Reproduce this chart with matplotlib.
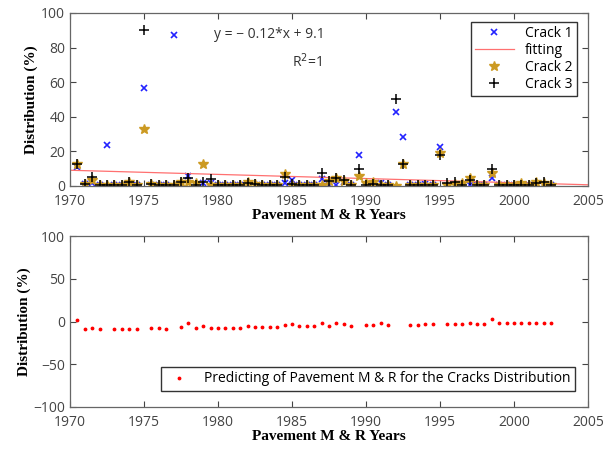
import matplotlib.pyplot as plt
import numpy as np

years = [1970.5, 1971, 1971.5, 1972, 1972.5, 1973, 1973.5, 1974, 1974.5, 1975,
         1975.5, 1976, 1976.5, 1977, 1977.5, 1978, 1978.5, 1979, 1979.5, 1980,
         1980.5, 1981, 1981.5, 1982, 1982.5, 1983, 1983.5, 1984, 1984.5, 1985,
         1985.5, 1986, 1986.5, 1987, 1987.5, 1988, 1988.5, 1989, 1989.5, 1990,
         1990.5, 1991, 1991.5, 1992, 1992.5, 1993, 1993.5, 1994, 1994.5, 1995,
         1995.5, 1996, 1996.5, 1997, 1997.5, 1998, 1998.5, 1999, 1999.5, 2000,
         2000.5, 2001, 2001.5, 2002, 2002.5]

crack1 = [11, 1, 1.5, 0.5, 23.5, 0.5, 0.5, 0.5, 0.5, 56.5,
          0.5, 0.5, 0.5, 87.5, 0.5, 6, 0.5, 2, 2, 0.5,
          0.5, 0.5, 0.5, 0.5, 0.5, 0.5, 0.5, 0.5, 2, 3.5,
          0.5, 0.5, 0.5, 4, 0.5, 0.5, 2.5, 0.5, 18, 0.5,
          0, 1.5, 0.5, 42.7, 28.5, 0.5, 0.5, 1, 0.5, 22.4,
          0, 0.5, 0, 0.5, 0.5, 0.5, 4.5, 0.5, 0.5, 0.5,
          0.5, 0.5, 0, 0.5, 0.5]
crack2 = [13, 1, 3.5, 0.5, 0.5, 0.5, 0.5, 2.5, 0.5, 33,
          1, 0.5, 0.5, 0.5, 2.5, 2.5, 2, 12.7, 0.5, 0.5,
          0.5, 0.5, 0.5, 2.5, 1, 0.5, 0.5, 0.5, 7, 0.5,
          0.5, 0.5, 0.5, 0.5, 3, 4.5, 3, 0.5, 5.8, 2,
          2.5, 0.5, 0.5, 0, 12.6, 0.5, 0.5, 0.5, 0.5, 19.3,
          0.5, 1, 2, 4.5, 0.5, 0.5, 7.3, 0.5, 0.5, 0.5,
          1.5, 0.5, 2.5, 1.5, 0.5]
crack3 = [13, 1, 5, 0.5, 0.5, 0.5, 0.5, 2.5, 0.5, 90,
          1, 0.5, 0.5, 0.5, 2.5, 4.5, 0.5, 2.5, 4, 0.5,
          0.5, 0.5, 0.5, 1.5, 1, 0.5, 0.5, 0.5, 5, 1,
          0.5, 0.5, 0.5, 7.3, 3, 4.8, 3.5, 0.5, 10, 0.5,
          1, 0.5, 0.5, 50, 12.6, 0.5, 0.5, 0.5, 0.5, 18,
          2, 2.5, 0.5, 3.5, 0.5, 0.5, 10, 0.5, 0.5, 0.5,
          0.5, 0.5, 1.5, 2.5, 0.5]

# prediction (gaps where the outliers were dropped)
predict = [2, -8.6, -7.8, -9, np.nan, -9, -9, -8.6, -9, np.nan,
           -7.8, -7.8, -8.2, np.nan, -6.6, -1.6, -7.4, -5, -7.4, -7.4,
           -7, -7, -7, -5, -6.2, -6.2, -6.2, -6.2, -4.3, -3,
           -5, -5, -5, -1.8, -5, -1.6, -3, -4.7, np.nan, -4.3,
           -4.3, -2, -3.9, np.nan, np.nan, -3.5, -3.5, -2.7, -3, np.nan,
           -2.7, -3, -2.7, -2.3, -2.7, -2.7, 2.7, -2, -2.3, -2.3,
           -2, -2, -1.6, -1.2, -1.2]

slope, intercept = -0.12, 9.1
xticks = [1970, 1975, 1980, 1985, 1990, 1995, 2000, 2005]

tick_font = "Open Sans"
label_font = dict(family="Liberation Serif", weight="bold", size=11)

fig = plt.figure(figsize=(6.1, 4.51), dpi=100)
ax1 = fig.add_axes([0.1148, 0.5876, 0.849, 0.3836])
ax2 = fig.add_axes([0.1148, 0.0976, 0.849, 0.379])

# top: crack distribution and linear fit
fit_x = np.array([1970, 2005])
fit_y = slope * 2 * (fit_x - 1970) + intercept
ax1.plot(years, crack1, "x", color="#2222ff", ms=5, mew=1.2, label="Crack 1")
ax1.plot(fit_x, fit_y, "-", color="#ff7070", lw=0.9, label="fitting")
ax1.plot(years, crack2, "*", color="#cc9a22", ms=7.5, label="Crack 2")
ax1.plot(years, crack3, "+", color="black", ms=7, mew=1.1, label="Crack 3")
ax1.set_ylim(0, 100)
ax1.set_yticks([0, 20, 40, 60, 80, 100])
ax1.text(1983.5, 87.5, "y = − 0.12*x + 9.1", ha="center", va="center",
         family=tick_font, fontsize=10, color="#333333")
ax1.text(1986, 72, "R$^2$=1", ha="center", va="center",
         family=tick_font, fontsize=10, color="#333333")
ax1.legend(loc="upper right", fancybox=False, edgecolor="#333333",
           framealpha=1, prop=dict(family=tick_font, size=10),
           handlelength=2.8, borderpad=0.3, labelspacing=0.15,
           bbox_to_anchor=(0.992, 0.99))

# bottom: prediction
ax2.plot(years, predict, ".", color="red", ms=3.5,
         label="Predicting of Pavement M & R for the Cracks Distribution")
ax2.set_ylim(-100, 100)
ax2.set_yticks([-100, -50, 0, 50, 100])
ax2.legend(loc="lower right", fancybox=False, edgecolor="#333333",
           framealpha=1, prop=dict(family=tick_font, size=10),
           handlelength=2.0, borderpad=0.3, bbox_to_anchor=(0.988, 0.055))

for ax in (ax1, ax2):
    ax.set_xlim(1970, 2005)
    ax.set_xticks(xticks)
    ax.tick_params(direction="in", top=True, right=True, length=4,
                   labelsize=10, colors="#444444", width=0.8)
    ax.tick_params(axis="x", pad=6)
    for lab in ax.get_xticklabels() + ax.get_yticklabels():
        lab.set_family(tick_font)
    for sp in ax.spines.values():
        sp.set_color("#666666")
        sp.set_linewidth(0.9)
    ax.set_xlabel("Pavement M & R Years", labelpad=0, **label_font)
    ax.set_ylabel("Distribution (%)", labelpad=2, **label_font)

fig.savefig("out.png", dpi=100)
